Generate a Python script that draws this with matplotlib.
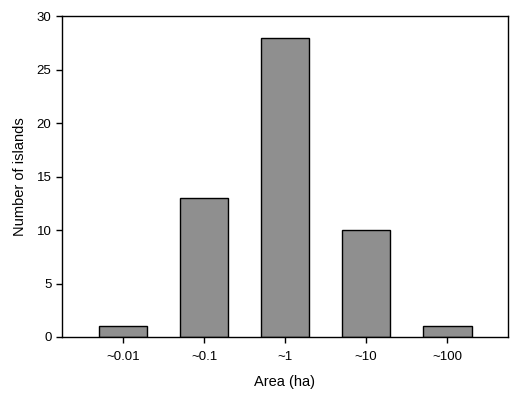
import matplotlib
matplotlib.use("Agg")
import matplotlib.pyplot as plt

plt.rcParams['font.family'] = ['Liberation Sans', 'DejaVu Sans']

areas = ['~0.01', '~0.1', '~1', '~10', '~100']
counts = [1, 13, 28, 10, 1]

fig = plt.figure(figsize=(5.2, 3.93), dpi=100)
ax = fig.add_axes([0.119, 0.1425, 0.858, 0.8165])

x = range(len(areas))
ax.bar(x, counts, width=0.6, color='#8f8f8f', edgecolor='black', linewidth=1.0)

ax.set_xlim(-0.753, 4.75)
ax.set_ylim(0, 30)
ax.set_yticks(range(0, 31, 5))
ax.set_xticks(list(x))
ax.set_xticklabels(areas)
ax.tick_params(direction='out', length=4, width=1, labelsize=9.5)
ax.tick_params(axis='x', pad=6)
for s in ax.spines.values():
    s.set_linewidth(1)

ax.set_xlabel('Area (ha)', fontsize=10.5, labelpad=9)
ax.set_ylabel('Number of islands', fontsize=10.5, labelpad=7)

fig.savefig('out.png', dpi=100)
